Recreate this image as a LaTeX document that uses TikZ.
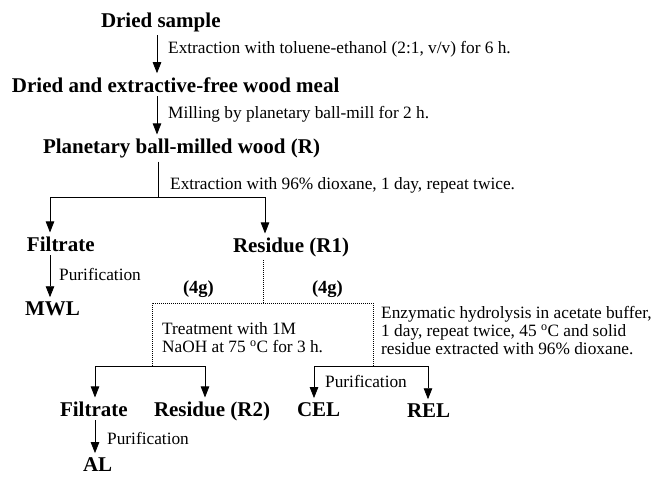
\documentclass[tikz,border=0pt]{standalone}
\usepackage{fontspec}
\setmainfont{Liberation Serif}
\usetikzlibrary{arrows.meta}

\begin{document}
\begin{tikzpicture}[x=1pt, y=-1pt,
  head/.style={font=\fontsize{21}{24}\selectfont\bfseries, anchor=base west, inner sep=0pt, outer xsep=0pt, outer ysep=4pt},
  note/.style={font=\fontsize{17.3}{18}\selectfont, anchor=base west, inner sep=0pt, align=left},
  arr/.style={-{Triangle[length=11pt,width=8.5pt]}, line width=0.8pt},
  dots/.style={line width=0.8pt, dash pattern=on 1pt off 1pt}]
  % Fix the size of the picture
  \useasboundingbox (0,0) rectangle (656,477);

  % Samples and products
  \node[head] (dried) at (101,27) {Dried sample};
  \node[head] (meal) at (12,92) {Dried and extractive-free wood meal};
  \node[head] (milled) at (43,153) {Planetary ball-milled wood (R)};
  \node[head] (filtA) at (27,251) {Filtrate};
  \node[head] (resA) at (233,252) {Residue (R1)};
  \node[head] (mwl) at (25,315) {MWL};
  \node[head] (filtB) at (60,416) {Filtrate};
  \node[head] (resB) at (154,416) {Residue (R2)};
  \node[head] (cel) at (297,416) {CEL};
  \node[head] (rel) at (407,417) {REL};
  \node[head] (al) at (83,471) {AL};
  \node[head, font=\fontsize{18.5}{20}\selectfont\bfseries] (gA) at (183,293) {(4g)};
  \node[head, font=\fontsize{18.5}{20}\selectfont\bfseries] (gB) at (312,293) {(4g)};

  % Treatments
  \node[note] (stepA) at (168,53) {Extraction with toluene-ethanol (2:1, v/v) for 6 h.};
  \node[note] (stepB) at (168,118) {Milling by planetary ball-mill for 2 h.};
  \node[note] (stepC) at (170,189) {Extraction with 96\% dioxane, 1 day, repeat twice.};
  \node[note] (purA) at (59,280) {Purification};
  \node[note, anchor=north west] (alkali) at (162,322.2) {Treatment with 1M\\NaOH at 75 \textsuperscript{o}C for 3 h.};
  \node[note, anchor=north west] (enzyme) at (381,306.2) {Enzymatic hydrolysis in acetate buffer,\\1 day, repeat twice, 45 \textsuperscript{o}C and solid\\residue extracted with 96\% dioxane.};
  \node[note] (purB) at (325,387) {Purification};
  \node[note] (purC) at (107,444) {Purification};

  % Columns of the arrows
  \coordinate (xa) at (157,0);
  \coordinate (xb) at (50,0);
  \coordinate (xc) at (265,0);
  \coordinate (xe) at (95,0);
  \coordinate (xf) at (205,0);
  \coordinate (xg) at (314,0);
  \coordinate (xh) at (428,0);
  \coordinate (fork) at (158,197);
  \coordinate (split) at (263,303);
  \coordinate (boxL) at (152,366);
  \coordinate (boxR) at (373,366);

  % Draw the arrows
  \draw[arr] (dried.south -| xa) -- (meal.north -| xa);
  \draw[arr] (meal.south -| xa) -- (milled.north -| xa);
  \draw[line width=0.6pt] (milled.south -| fork) -- (fork);
  \draw[arr] (fork) -| (filtA.north -| xb);
  \draw[arr] (fork) -| (resA.north -| xc);
  \draw[arr] (filtA.south -| xb) -- (mwl.north -| xb);

  % Dotted split of the residue
  \draw[dots] (resA.south -| split) -- (split);
  \draw[dots] (boxL) |- (split) -| (boxR);

  \draw[arr] (boxL) -| (filtB.north -| xe);
  \draw[arr] (boxL) -| (resB.north -| xf);
  \draw[arr] (boxR) -| (cel.north -| xg);
  \draw[arr] (boxR) -| (rel.north -| xh);
  \draw[arr] (filtB.south -| xe) -- (al.north -| xe);
\end{tikzpicture}
\end{document}
